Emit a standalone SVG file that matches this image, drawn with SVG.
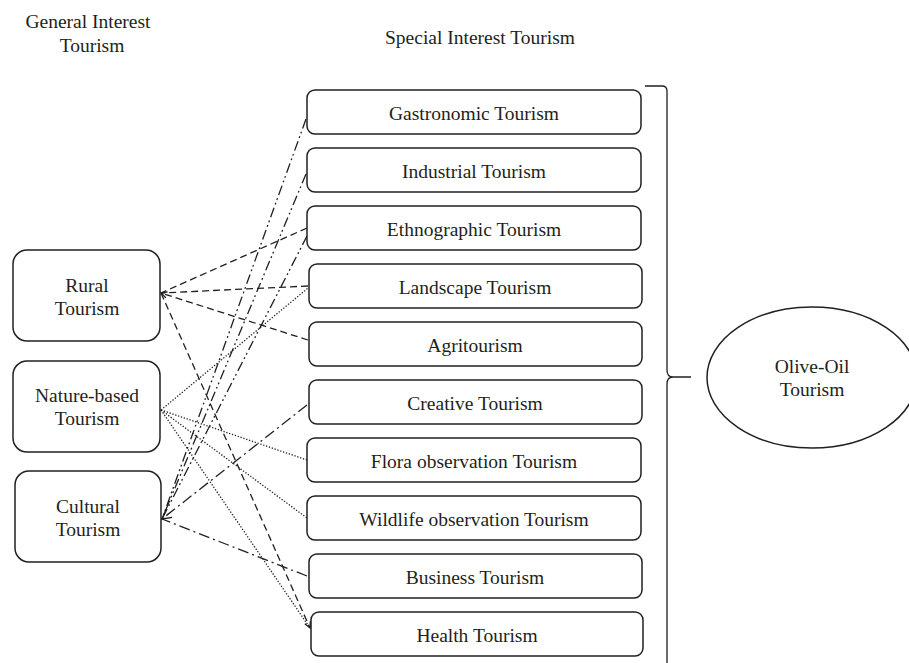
<svg xmlns="http://www.w3.org/2000/svg" width="909" height="663" viewBox="0 0 909 663">
<style>
text{font-family:"Liberation Serif","Times New Roman",serif;font-size:19.5px;fill:#231f20;text-anchor:middle}
.box{fill:#fff;stroke:#231f20;stroke-width:1.5}
.c{fill:none;stroke:#231f20;stroke-width:1.3}
.dash{stroke-dasharray:7 4}
.dot{stroke-dasharray:1.3 1.7}
.dd{stroke-dasharray:11 4 2 4}
.ddd{stroke-dasharray:10 3.5 1.8 3 1.8 3.5}
</style>
<defs>
<marker id="arr" markerWidth="12" markerHeight="12" refX="10" refY="6" orient="auto" markerUnits="userSpaceOnUse">
<path d="M1,1 L10,6 L1,11" fill="none" stroke="#231f20" stroke-width="1.4"/>
</marker>
<marker id="arrs" markerWidth="8" markerHeight="8" refX="7" refY="4" orient="auto" markerUnits="userSpaceOnUse">
<path d="M1,1 L7,4 L1,7" fill="none" stroke="#231f20" stroke-width="1.3"/>
</marker>
</defs>
<rect width="909" height="663" fill="#fff"/>
<g id="titles">
<text x="88" y="28">General Interest</text>
<text x="92" y="52">Tourism</text>
<text x="480" y="44">Special Interest Tourism</text>
</g>
<g id="connectors">
<line class="c dash" x1="307" y1="228" x2="161" y2="293"/>
<line class="c dash" x1="308" y1="286" x2="161" y2="293"/>
<line class="c dash" x1="308" y1="340" x2="161" y2="293" marker-end="url(#arrs)"/>
<line class="c dash" x1="161" y1="293" x2="310" y2="628" marker-end="url(#arrs)"/>
<line class="c dot" x1="161" y1="410" x2="308" y2="288"/>
<line class="c dot" x1="161" y1="410" x2="307" y2="460"/>
<line class="c dot" x1="161" y1="410" x2="307" y2="518"/>
<line class="c dot" x1="161" y1="410" x2="310" y2="628"/>
<line class="c ddd" x1="306" y1="119" x2="162" y2="519"/>
<line class="c ddd" x1="306" y1="174" x2="162" y2="519"/>
<line class="c ddd" x1="307" y1="236" x2="162" y2="519"/>
<line class="c dd" x1="307" y1="405" x2="162" y2="519" marker-end="url(#arr)"/>
<line class="c dd" x1="307" y1="576" x2="162" y2="519"/>
</g>
<g id="rural"><rect class="box" x="13" y="250" width="147" height="91" rx="14"/><text x="87" y="292">Rural</text><text x="87" y="315">Tourism</text></g>
<g id="nature"><rect class="box" x="13" y="361" width="147" height="91" rx="14"/><text x="87" y="402">Nature-based</text><text x="87" y="425">Tourism</text></g>
<g id="cultural"><rect class="box" x="15" y="471" width="146" height="91" rx="14"/><text x="88" y="513">Cultural</text><text x="88" y="536">Tourism</text></g>
<g id="gastronomic"><rect class="box" x="307" y="90" width="334" height="44" rx="8"/><text x="474" y="120">Gastronomic Tourism</text></g>
<g id="industrial"><rect class="box" x="307" y="148" width="334" height="44" rx="8"/><text x="474" y="178">Industrial Tourism</text></g>
<g id="ethnographic"><rect class="box" x="307" y="206" width="334" height="44" rx="8"/><text x="474" y="236">Ethnographic Tourism</text></g>
<g id="landscape"><rect class="box" x="309" y="264" width="333" height="44" rx="8"/><text x="475" y="294">Landscape Tourism</text></g>
<g id="agritourism"><rect class="box" x="309" y="322" width="333" height="44" rx="8"/><text x="475" y="352">Agritourism</text></g>
<g id="creative"><rect class="box" x="309" y="380" width="333" height="44" rx="8"/><text x="475" y="410">Creative Tourism</text></g>
<g id="flora"><rect class="box" x="307" y="438" width="334" height="44" rx="8"/><text x="474" y="468">Flora observation Tourism</text></g>
<g id="wildlife"><rect class="box" x="307" y="496" width="334" height="44" rx="8"/><text x="474" y="526">Wildlife observation Tourism</text></g>
<g id="business"><rect class="box" x="309" y="554" width="333" height="44" rx="8"/><text x="475" y="584">Business Tourism</text></g>
<g id="health"><rect class="box" x="311" y="612" width="332" height="44" rx="8"/><text x="477" y="642">Health Tourism</text></g>
<g id="bracket">
<path class="c" d="M645 86 L662 86 Q667 86 667 91 L667 370 Q667 377 673 377 L691 377 M673 377 Q667 377 667 384 L667 663"/>
</g>
<g id="olive-oil">
<ellipse class="box" cx="812" cy="377.5" rx="105" ry="70.5"/>
<text x="812" y="373">Olive-Oil</text>
<text x="812" y="396">Tourism</text>
</g>
</svg>
